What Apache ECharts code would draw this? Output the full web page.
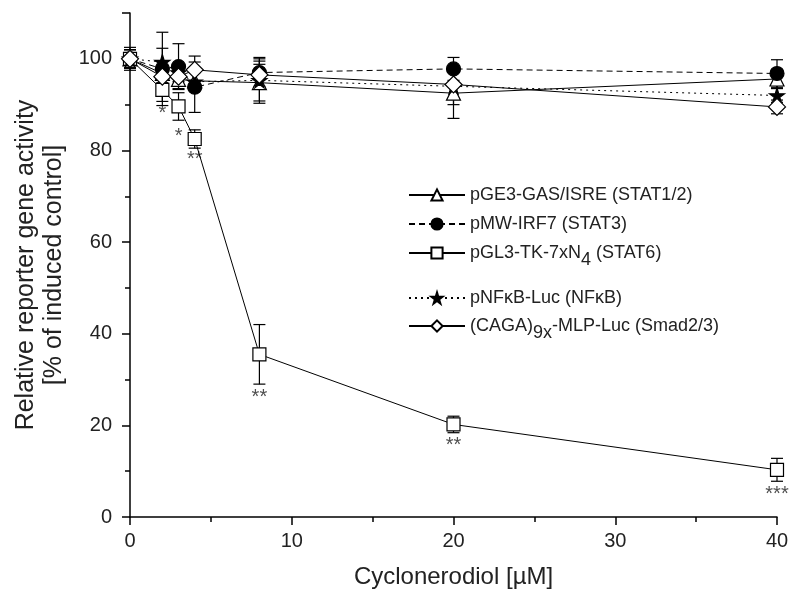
<!DOCTYPE html>
<html>
<head>
<meta charset="utf-8">
<script src="https://cdn.jsdelivr.net/npm/echarts@6/dist/echarts.min.js"></script>
<style>
  html, body { margin: 0; padding: 0; background: #fff; }
  #main { width: 803px; height: 591px; }
</style>
</head>
<body>
<div id="main"></div>
<script>
// concentrations (µM)
var conc = [0, 2, 3, 4, 8, 20, 40];

// mean values, % of induced control
var gasIsre = [100, 96.8, 95.5, 95.2, 94.8, 92.5, 95.6];
var irf7 = [100, 97.8, 98.3, 93.8, 97.0, 97.8, 96.8];
var stat6 = [100, 93.2, 89.6, 82.5, 35.5, 20.2, 10.3];
var nfkb = [100, 99.3, 97.0, 95.0, 95.3, 94.0, 92.0];
var smad = [100, 96.1, 96.1, 97.6, 96.5, 94.4, 89.5];

// error (+/-)
var gasIsreErr = [2, 2, 2, 2, 4, 5.5, 2];
var irf7Err = [2.5, 8, 5, 5.5, 3, 2.5, 3];
var stat6Err = [2, 2.5, 3, 2, 6.5, 1.8, 2.5];
var nfkbErr = [2, 3, 2, 2, 5, 4, 1.5];
var smadErr = [2, 2, 2, 3, 3, 3, 1.5];

// significance marks under the STAT6 curve
var sigConc = [2, 3, 4, 8, 20, 40];
var sigText = ['*', '*', '**', '**', '**', '***'];
var sigY = [88, 83, 78, 26, 15.5, 5];

var FONT = '"Liberation Sans", Arial, sans-serif';
var starPath = 'path://M50,0 L61,35 L98,35 L68,57 L79,91 L50,70 L21,91 L32,57 L2,35 L39,35 Z';

function pairs(ys) {
    return conc.map(function (x, i) { return [x, ys[i]]; });
}

var errData = [];
[[gasIsre, gasIsreErr], [irf7, irf7Err], [stat6, stat6Err], [nfkb, nfkbErr], [smad, smadErr]].forEach(function (s) {
    conc.forEach(function (x, i) {
        errData.push([x, s[0][i], s[1][i]]);
    });
});

function lineSeries(name, ys, symbol, size, filled, type) {
    return {
        name: name,
        type: 'line',
        data: pairs(ys),
        symbol: symbol,
        symbolSize: size,
        showAllSymbol: true,
        z: 5,
        lineStyle: { color: '#000', width: 1, type: type },
        itemStyle: { color: filled ? '#000' : '#fff', borderColor: '#000', borderWidth: 1.2 },
        emphasis: { disabled: true }
    };
}

var rich = {
    a: { fontSize: 18, fontFamily: FONT, color: '#222' },
    s: { fontSize: 18, fontFamily: FONT, color: '#222', padding: [15, 0, 0, 0] }
};

var labelMap = {
    'pGE3-GAS/ISRE (STAT1/2)': '{a|pGE3-GAS/ISRE (STAT1/2)}',
    'pMW-IRF7 (STAT3)': '{a|pMW-IRF7 (STAT3)}',
    'pGL3-TK-7xN4 (STAT6)': '{a|pGL3-TK-7xN}{s|4}{a| (STAT6)}',
    'pNFκB-Luc (NFκB)': '{a|pNFκB-Luc (NFκB)}',
    '(CAGA)9x-MLP-Luc (Smad2/3)': '{a|(CAGA)}{s|9x}{a|-MLP-Luc (Smad2/3)}'
};

var chart = echarts.init(document.getElementById('main'));
chart.setOption({
    backgroundColor: '#fff',
    animation: false,
    grid: { left: 130, right: 26, top: 13, bottom: 74, outerBoundsMode: 'none' },
    legend: [{
        data: ['pGE3-GAS/ISRE (STAT1/2)', 'pMW-IRF7 (STAT3)', 'pGL3-TK-7xN4 (STAT6)'],
        orient: 'vertical',
        left: 403,
        top: 181,
        itemWidth: 56,
        itemHeight: 14,
        itemGap: 11,
        selectedMode: false,
        formatter: function (n) { return labelMap[n]; },
        textStyle: { rich: rich }
    }, {
        data: ['pNFκB-Luc (NFκB)', '(CAGA)9x-MLP-Luc (Smad2/3)'],
        orient: 'vertical',
        left: 403,
        top: 284,
        itemWidth: 56,
        itemHeight: 14,
        itemGap: 10,
        selectedMode: false,
        formatter: function (n) { return labelMap[n]; },
        textStyle: { rich: rich }
    }],
    xAxis: {
        type: 'value',
        min: 0,
        max: 40,
        interval: 10,
        name: 'Cyclonerodiol [µM]',
        nameLocation: 'middle',
        nameGap: 48,
        nameTextStyle: { fontSize: 24, fontFamily: FONT, color: '#222' },
        axisLine: { lineStyle: { color: '#000', width: 1.5 } },
        axisTick: { length: 8, lineStyle: { color: '#000', width: 1.5 } },
        minorTick: { show: true, splitNumber: 2, length: 5, lineStyle: { color: '#000', width: 1.5 } },
        axisLabel: { fontSize: 20, fontFamily: FONT, color: '#222', margin: 14 },
        splitLine: { show: false }
    },
    yAxis: {
        type: 'value',
        min: 0,
        max: 110,
        interval: 20,
        name: 'Relative reporter gene activity\n[% of induced control]',
        nameLocation: 'middle',
        nameGap: 53,
        nameTextStyle: { fontSize: 25, fontFamily: FONT, color: '#222', lineHeight: 28 },
        axisLine: { lineStyle: { color: '#000', width: 1.5 } },
        axisTick: { length: 8, lineStyle: { color: '#000', width: 1.5 } },
        minorTick: { show: true, splitNumber: 2, length: 5, lineStyle: { color: '#000', width: 1.5 } },
        axisLabel: { fontSize: 20, fontFamily: FONT, color: '#222', margin: 18, showMaxLabel: false },
        splitLine: { show: false }
    },
    series: [
        {
            name: 'errors',
            type: 'custom',
            z: 3,
            silent: true,
            data: errData,
            encode: { x: 0, y: 1 },
            renderItem: function (params, api) {
                var x = api.value(0), y = api.value(1), e = api.value(2);
                var top = api.coord([x, y + e]);
                var bot = api.coord([x, y - e]);
                var hw = 6;
                var st = { stroke: '#000', lineWidth: 1.2 };
                return {
                    type: 'group',
                    children: [
                        { type: 'line', shape: { x1: top[0], y1: top[1], x2: bot[0], y2: bot[1] }, style: st },
                        { type: 'line', shape: { x1: top[0] - hw, y1: top[1], x2: top[0] + hw, y2: top[1] }, style: st },
                        { type: 'line', shape: { x1: bot[0] - hw, y1: bot[1], x2: bot[0] + hw, y2: bot[1] }, style: st }
                    ]
                };
            }
        },
        lineSeries('pGE3-GAS/ISRE (STAT1/2)', gasIsre, 'triangle', 14, false, 'solid'),
        lineSeries('pMW-IRF7 (STAT3)', irf7, 'circle', 14, true, [6, 4]),
        lineSeries('pGL3-TK-7xN4 (STAT6)', stat6, 'rect', 13, false, 'solid'),
        lineSeries('pNFκB-Luc (NFκB)', nfkb, starPath, 15, true, [2, 4]),
        lineSeries('(CAGA)9x-MLP-Luc (Smad2/3)', smad, 'diamond', 17, false, 'solid'),
        {
            name: 'sig',
            type: 'scatter',
            symbolSize: 0,
            silent: true,
            data: sigConc.map(function (x, i) { return [x, sigY[i], sigText[i]]; }),
            label: {
                show: true,
                position: 'inside',
                fontSize: 20,
                fontFamily: FONT,
                color: '#222',
                formatter: function (p) { return p.value[2]; }
            }
        }
    ]
});
</script>
</body>
</html>
